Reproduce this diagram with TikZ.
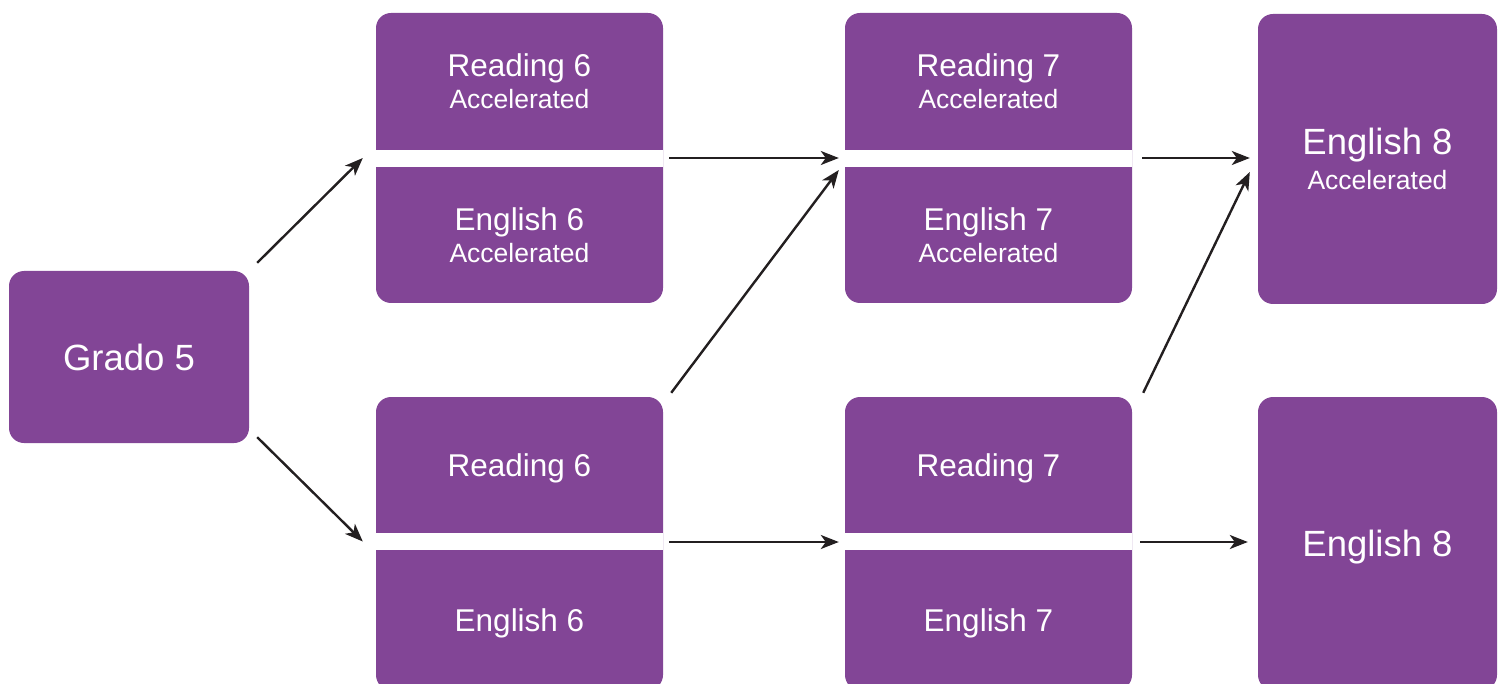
\documentclass[tikz,border=0pt]{standalone}
\usepackage{fontspec}
\setmainfont{Liberation Sans}
\usetikzlibrary{calc,arrows.meta}
\definecolor{boxpurple}{RGB}{130,69,150}
\definecolor{arrowdark}{RGB}{35,31,32}
\newcommand{\fsMain}{\fontsize{31.5}{31}\selectfont}
\newcommand{\fsSub}{\fontsize{26.5}{31}\selectfont}
\newcommand{\fsBig}{\fontsize{36.5}{32}\selectfont}
\begin{document}
\begin{tikzpicture}[x=1pt,y=-1pt,
  purplebox/.style={fill=boxpurple,draw=none,rounded corners=15pt,inner sep=0pt},
  halfbox/.style={draw=none,inner sep=0pt,minimum width=287pt,text=white,align=center},
  onemain/.style={font=\fsMain,text height=22.6pt,text depth=0pt},
  onebig/.style={font=\fsBig,text height=26.1pt,text depth=0pt},
  gapband/.style={fill=white,draw=none},
  flow/.style={draw=arrowdark,line width=2.4pt,-{Stealth[length=18pt,width=14pt,inset=5pt]}}
]
\useasboundingbox (0,0) rectangle (1503,684);
% Grado 5
\node[purplebox,minimum width=240pt,minimum height=172pt,text=white,onebig] (g5) at (129,357) {Grado 5};
% pair 6 accelerated
\node[purplebox,minimum width=287pt,minimum height=290pt] (p6a) at (519.5,158) {};
\fill[gapband] (376,150) rectangle (663,167);
\node[halfbox,minimum height=137pt] (r6a) at (519.5,81.5) {{\fsMain Reading 6}\\[5.5pt]{\fsSub Accelerated}};
\node[halfbox,minimum height=136pt] (e6a) at (519.5,235) {{\fsMain English 6}\\[5.5pt]{\fsSub Accelerated}};
% pair 6
\node[purplebox,minimum width=287pt,minimum height=293pt] (p6) at (519.5,543.5) {};
\fill[gapband] (376,533) rectangle (663,550);
\node[halfbox,minimum height=136pt,onemain] (r6) at (519.5,465) {Reading 6};
\node[halfbox,minimum height=140pt,onemain] (e6) at (519.5,620) {English 6};
% pair 7 accelerated
\node[purplebox,minimum width=287pt,minimum height=290pt] (p7a) at (988.5,158) {};
\fill[gapband] (845,150) rectangle (1132,167);
\node[halfbox,minimum height=137pt] (r7a) at (988.5,81.5) {{\fsMain Reading 7}\\[5.5pt]{\fsSub Accelerated}};
\node[halfbox,minimum height=136pt] (e7a) at (988.5,235) {{\fsMain English 7}\\[5.5pt]{\fsSub Accelerated}};
% pair 7
\node[purplebox,minimum width=287pt,minimum height=293pt] (p7) at (988.5,543.5) {};
\fill[gapband] (845,533) rectangle (1132,550);
\node[halfbox,minimum height=136pt,onemain] (r7) at (988.5,465) {Reading 7};
\node[halfbox,minimum height=140pt,onemain] (e7) at (988.5,620) {English 7};
% English 8
\node[purplebox,minimum width=239pt,minimum height=290pt,text=white,align=center] (e8a) at (1377.5,159) {{\fsBig English 8}\\[8pt]{\fsSub Accelerated}};
\node[purplebox,minimum width=239pt,minimum height=293pt,text=white,onebig] (e8) at (1377.5,543.5) {English 8};
% connectors
\draw[flow] ($(g5.north east)+(8,-8)$) -- ($(p6a.west)+(-13,0)$);
\draw[flow] ($(g5.south east)+(8,-6)$) -- ($(p6.west)+(-13,-2)$);
\draw[flow] ($(p6a.east)+(6,0)$) -- ($(p7a.west)+(-6,0)$);
\draw[flow] ($(p6.north east)+(8,-4)$) -- ($(p7a.west)+(-6,12)$);
\draw[flow] ($(p6.east)+(6,-1.5)$) -- ($(p7.west)+(-6,-1.5)$);
\draw[flow] ($(p7a.east)+(10,0)$) -- ($(e8a.west)+(-8,-1)$);
\draw[flow] ($(p7.north east)+(11,-4)$) -- ($(e8a.west)+(-8,13)$);
\draw[flow] ($(p7.east)+(8,-1.5)$) -- ($(e8.west)+(-10,-1.5)$);
\end{tikzpicture}
\end{document}
